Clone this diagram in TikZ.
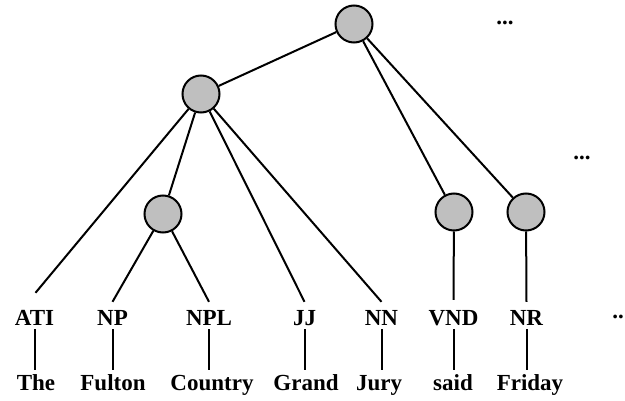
\documentclass[tikz,border=0pt]{standalone}
\usepackage{fontspec}
\setmainfont{Liberation Serif}
\begin{document}
\begin{tikzpicture}[x=1pt,y=-1pt,
  every node/.style={font=\bfseries\fontsize{23}{26}\selectfont},
  hub/.style={circle,draw,fill=black!25,line width=2pt,minimum size=37pt,inner sep=0pt},
  tag/.style={anchor=base,inner xsep=2pt,inner ysep=3pt,text height=15pt,text depth=0pt},
  word/.style={anchor=base,inner xsep=2pt,inner ysep=6pt,text height=15pt,text depth=5pt},
  link/.style={line width=2pt}]
\useasboundingbox (0,0) rectangle (625,401);

% internal nodes of the tree
\node[hub] (root) at (354,24) {};
\node[hub] (np1) at (201,94) {};
\node[hub] (np2) at (163,214) {};
\node[hub] (vp) at (454,212) {};
\node[hub] (nr1) at (526,212) {};

% part-of-speech tags
\node[tag] (ati) at (34.5,326) {ATI};
\node[tag] (np) at (112.5,326) {NP};
\node[tag] (npl) at (209,326) {NPL};
\node[tag] (jj) at (304.5,326) {JJ};
\node[tag] (nn) at (381.5,326) {NN};
\node[tag] (vnd) at (453.5,326) {VND};
\node[tag] (nr) at (526.5,326) {NR};

% words of the sentence
\node[word] (w1) at (36,391) {The};
\node[word] (w2) at (113,391) {Fulton};
\node[word] (w3) at (212,391) {Country};
\node[word] (w4) at (306,391) {Grand};
\node[word] (w5) at (379,391) {Jury};
\node[word] (w6) at (453,391) {said};
\node[word] (w7) at (530,391) {Friday};

% continuation marks
\node[anchor=base,inner sep=0pt] (d1) at (505,25) {...};
\node[anchor=base,inner sep=0pt] (d2) at (582,160) {...};
\node[anchor=base,inner sep=0pt] (d3) at (618,319) {..};

% tree edges
\draw[link] (root) -- (np1);
\draw[link] (root) -- (vp);
\draw[link] (root) -- (nr1);
\draw[link] (np1) -- ([xshift=1pt,yshift=15pt]ati.north);
\draw[link] (np1) -- (np2);
\draw[link] (np1) -- ([yshift=6pt]jj.north);
\draw[link] (np1) -- ([yshift=6pt]nn.north);
\draw[link] (np2) -- ([yshift=6pt]np.north);
\draw[link] (np2) -- ([yshift=6pt]npl.north);
\draw[link] (vp) -- ([yshift=8pt]vnd.north);
\draw[link] (nr1) -- ([yshift=6pt]nr.north);

% tag-to-word links
\foreach \t/\w in {ati/w1,np/w2,npl/w3,jj/w4,nn/w5,vnd/w6,nr/w7}
  \draw[link] (\t.south) -- (\t.south |- \w.north);
\end{tikzpicture}
\end{document}
